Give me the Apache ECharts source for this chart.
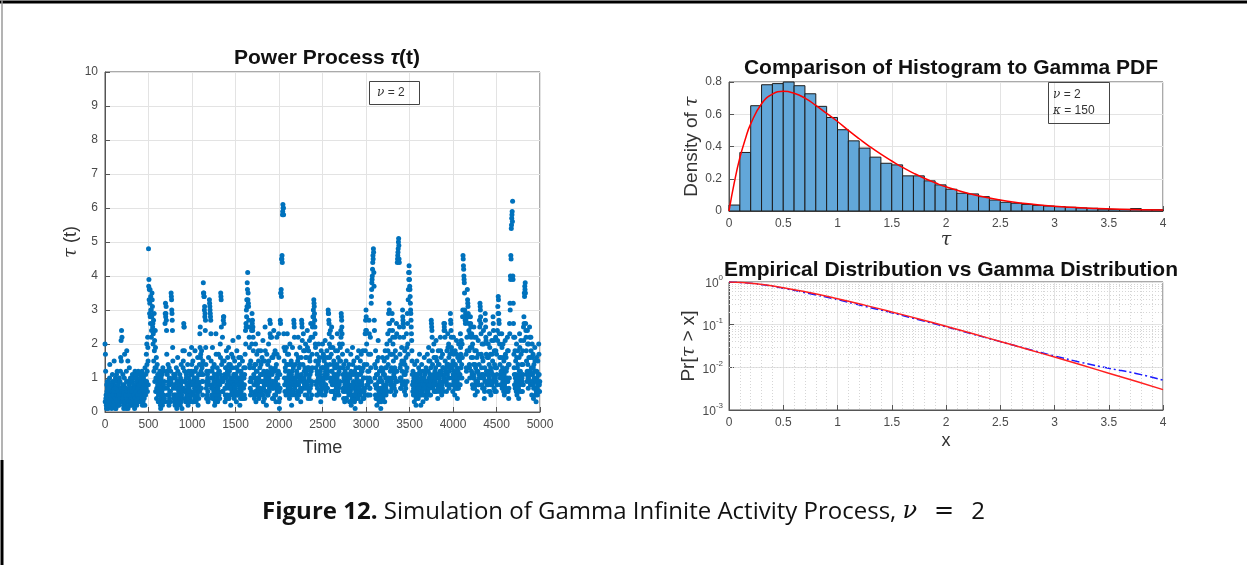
<!DOCTYPE html>
<html><head><meta charset="utf-8">
<script src="https://cdn.jsdelivr.net/npm/echarts@6/dist/echarts.min.js"></script>
<style>html,body{margin:0;padding:0;background:#fff}#c{width:1247px;height:565px}</style>
</head><body><div id="c"></div>
<script>
// ---------- DATA ----------
const timeStep = 5; // samples, one every 5 time units (two interleaved sets)
const tauValuesA = [ // t = 0, 5, 10, ...
2.0,1.7,0.4,0.2,0.8,0.3,0.7,0.1,0.9,0.5,0.6,1.4,0.3,0.6,0.2,0.8,0.4,1.1,0.3,0.7,
0.8,1.5,0.2,0.5,1.0,0.1,0.6,0.4,1.2,0.9,0.4,0.2,0.7,1.0,0.3,0.6,1.6,2.1,2.4,2.2,
0.5,1.1,0.3,0.1,0.8,1.7,0.4,0.2,0.7,1.2,1.8,0.3,0.6,0.1,0.9,0.5,1.3,0.2,0.7,0.5,
0.4,0.9,0.2,1.1,0.6,0.3,1.0,0.5,0.1,1.2,0.7,0.4,1.0,0.2,0.8,0.6,0.3,0.9,0.5,1.1,
0.7,1.0,0.3,0.8,0.5,1.2,0.2,0.9,0.6,1.1,0.4,0.8,1.3,0.5,0.9,1.7,2.0,1.2,2.2,1.5,
4.8,3.9,3.6,3.2,2.8,3.4,3.0,2.4,3.5,3.1,2.6,2.3,1.5,2.9,2.1,1.3,1.9,1.0,1.6,0.7,
1.4,0.8,1.1,0.5,0.9,0.3,1.2,0.6,0.1,1.0,0.4,0.8,0.2,1.3,0.7,0.5,0.9,0.3,2.6,3.2,
2.9,2.7,1.7,1.1,0.5,1.4,0.8,0.2,1.0,0.6,0.3,1.2,3.5,3.3,2.9,2.4,1.5,0.7,1.1,0.4,
0.8,0.2,1.0,0.5,1.3,0.1,0.7,1.6,0.4,0.9,0.3,0.6,1.1,0.2,0.8,1.4,0.5,0.1,0.9,1.8,
1.5,2.6,2.5,1.2,0.6,0.9,0.3,1.1,0.5,0.8,1.4,0.2,1.0,0.7,1.7,0.4,0.9,0.6,1.2,1.9,
1.1,0.5,1.5,0.8,0.3,1.2,0.7,1.8,1.0,0.4,1.3,0.6,0.9,1.6,0.2,1.1,0.8,1.4,2.3,2.5,
1.7,1.1,1.8,1.3,0.9,1.5,3.8,3.5,3.4,3.1,2.9,2.7,1.4,0.7,1.2,0.5,1.0,0.3,1.6,0.8,
3.3,3.1,2.9,2.7,1.5,0.7,1.2,1.9,0.4,1.0,0.6,1.4,0.2,0.9,0.5,2.3,1.1,0.7,1.3,0.3,
0.9,1.7,0.5,1.2,0.8,2.0,3.5,3.3,1.4,0.9,2.2,0.6,2.7,2.8,1.5,1.0,0.3,1.3,0.7,1.8,
1.1,0.5,1.6,0.9,1.9,0.4,1.2,0.8,1.4,0.2,1.0,1.7,0.6,1.3,2.1,0.8,1.1,0.4,1.5,0.9,
0.7,1.3,0.3,1.8,1.0,0.5,1.2,2.2,0.8,1.4,0.2,0.9,1.6,0.6,1.1,0.4,1.5,0.8,1.0,1.3,
0.5,1.1,1.7,2.4,2.6,3.0,3.3,3.8,4.1,3.5,3.1,2.5,1.9,1.3,0.7,1.5,0.9,2.4,2.9,2.7,
2.5,1.8,1.1,0.5,1.4,0.8,2.0,0.3,1.2,1.7,0.6,1.0,2.3,1.5,0.4,0.9,1.3,0.7,1.8,1.1,
0.5,1.6,0.9,2.1,0.3,1.2,0.8,1.5,2.5,0.6,1.1,0.2,1.7,0.9,1.4,0.5,2.0,1.0,0.7,2.7,
2.6,1.3,0.8,2.2,1.1,0.4,1.6,0.7,2.4,1.2,0.5,1.8,0.9,0.3,1.4,2.2,0.6,1.1,0.8,2.3,
0.3,0.1,1.1,2.7,3.5,3.6,4.5,4.6,5.8,6.1,6.0,2.3,1.5,0.8,1.8,1.2,0.5,1.9,1.0,2.3,
1.4,0.7,1.7,1.1,0.4,2.0,0.9,0.6,1.5,0.2,1.2,1.9,0.8,1.3,2.7,2.5,1.0,0.5,1.4,0.8,
1.7,1.1,0.4,1.5,2.2,0.8,1.3,0.6,1.9,1.0,0.3,1.6,2.7,2.5,0.9,1.4,2.3,0.7,1.2,1.8,
0.5,2.0,1.1,1.6,0.8,2.4,1.3,0.4,1.8,1.0,2.1,1.5,0.7,2.6,1.2,0.5,1.7,2.5,2.8,3.0,
3.3,3.1,2.7,2.3,1.9,1.3,0.8,1.7,1.1,0.5,1.4,2.0,0.9,1.6,0.6,1.2,0.3,1.8,1.0,0.7,
2.0,1.3,1.7,1.0,1.5,0.8,2.1,1.2,0.6,1.4,1.8,1.1,1.6,3.0,2.9,2.6,2.0,1.4,2.4,0.9,
1.7,2.5,1.2,0.6,1.9,1.0,1.5,0.4,1.3,0.8,1.8,1.1,0.5,1.4,2.3,0.9,1.6,0.7,1.2,2.0,
1.3,1.9,2.4,2.9,2.7,2.3,1.7,1.1,0.6,1.4,0.9,0.3,1.2,0.7,1.5,0.4,1.0,1.8,0.6,1.1,
0.8,1.4,0.3,1.0,0.6,1.7,0.2,1.1,0.7,1.9,0.4,0.9,1.5,0.5,1.2,0.1,0.8,1.3,0.4,1.0,
1.6,0.6,1.1,1.8,0.5,1.3,0.8,1.5,0.3,1.7,0.9,1.2,0.6,1.8,1.0,0.4,1.4,0.7,2.3,2.7,
3.0,2.4,1.4,0.8,1.2,0.5,1.7,2.7,1.0,0.7,2.2,1.3,3.2,3.6,3.9,4.2,4.6,4.8,4.1,2.7,
1.4,0.8,1.8,0.4,1.1,0.2,1.5,0.7,2.1,0.9,0.3,1.2,0.6,1.0,0.1,1.3,0.5,0.9,1.6,0.4,
1.1,0.7,1.5,0.3,1.8,1.0,0.5,1.3,2.0,0.9,2.3,1.4,2.9,3.2,2.6,2.1,1.2,0.6,1.7,1.0,
2.9,2.4,2.0,1.5,1.1,0.7,1.3,2.2,0.9,1.6,2.6,1.2,4.4,4.6,4.8,5.1,4.5,2.5,1.7,1.0,
1.4,0.7,1.9,1.2,3.0,2.7,2.5,1.5,0.9,1.8,1.1,0.5,1.6,2.3,1.3,2.9,2.0,3.3,4.1,4.3,
3.9,3.6,3.2,2.9,2.5,2.1,1.5,0.8,1.2,0.5,1.0,0.3,1.4,0.7,1.1,0.2,0.9,1.5,0.6,1.0,
0.4,1.3,0.8,1.7,0.5,1.1,0.2,0.9,1.4,0.6,1.2,0.3,1.0,0.7,1.6,0.5,1.1,0.8,1.3,0.4,
0.9,1.7,0.6,1.2,1.9,1.0,0.5,1.5,0.8,1.3,2.7,2.5,2.2,1.4,0.7,1.1,2.0,0.6,1.6,0.9,
1.3,2.1,0.8,1.5,1.1,0.4,1.8,1.0,1.4,0.6,1.2,2.2,0.8,1.6,0.5,1.1,1.7,0.9,1.3,2.6,
2.5,2.4,1.5,0.9,1.3,0.6,1.8,1.1,2.3,1.4,2.0,0.7,1.2,1.7,2.9,2.6,2.2,1.8,1.3,0.8,
1.5,2.2,0.9,1.4,0.5,1.8,1.1,0.7,2.1,1.3,0.4,1.6,1.0,2.0,0.8,1.5,1.1,2.3,1.7,2.1,
1.4,2.0,2.8,4.6,4.3,4.0,3.8,3.0,2.7,2.9,1.7,1.2,2.2,3.6,3.2,2.9,2.6,1.8,1.3,2.3,
2.8,2.5,1.6,2.3,1.1,2.0,0.7,1.4,2.5,1.0,1.8,0.5,1.3,2.2,0.9,1.6,0.6,1.2,2.1,0.8,
1.4,2.7,3.2,3.0,2.6,1.7,1.1,2.0,0.7,1.5,2.4,1.0,0.4,1.3,2.9,2.5,2.1,1.2,0.8,1.6,
1.1,2.0,0.6,1.4,2.3,0.9,1.7,0.5,1.2,2.1,0.8,1.5,2.8,2.4,1.0,1.8,0.6,1.3,2.2,0.9,
1.7,1.1,2.4,3.1,3.4,2.9,2.6,2.0,1.4,0.8,1.6,1.1,2.3,0.7,1.3,2.0,0.9,1.5,0.5,1.2,
2.1,1.0,1.6,0.6,1.3,2.2,0.9,1.8,0.4,1.4,2.6,3.2,4.0,4.6,5.4,5.7,5.9,6.2,3.9,2.6,
1.7,1.1,2.2,0.7,1.5,0.9,2.0,0.5,1.3,1.8,1.0,0.4,1.6,2.3,0.8,1.2,2.1,0.6,1.4,0.9,
1.8,1.1,2.5,2.8,3.5,3.7,3.8,2.6,2.2,1.5,0.9,2.4,1.4,0.7,2.0,1.2,2.5,1.6,0.8,2.2,
1.3,0.5,2.0,1.1,1.7,0.4,1.4,0.9,1.9,0.7,1.2,0.3,1.6,1.0,0.5,1.5,0.8,2.0,1.1,0.6
];
const tauValuesB = [ // t = 2.5, 7.5, 12.5, ...
0.3,1.2,0.5,0.1,0.6,0.9,0.2,0.4,0.7,0.3,1.0,0.5,0.2,0.8,0.4,0.1,0.6,0.9,0.5,0.2,
0.6,0.3,0.9,0.4,0.1,0.7,1.1,0.5,0.3,0.6,0.8,0.2,0.5,0.4,0.9,1.2,0.7,1.5,0.6,0.3,
0.8,0.4,0.2,0.6,1.0,0.3,0.7,0.5,0.1,0.9,0.4,0.6,1.5,0.3,0.5,0.8,0.2,0.6,1.0,0.4,
0.7,0.3,0.6,0.9,0.4,0.8,0.5,0.2,0.7,0.4,1.1,0.6,0.3,0.9,0.5,0.7,1.2,0.4,0.8,0.6,
0.3,0.6,0.9,0.5,1.1,0.4,0.7,0.3,1.0,0.6,0.8,0.2,0.5,1.1,0.7,0.9,1.4,0.6,1.9,0.8,
3.7,3.3,2.9,3.6,2.6,3.0,2.2,2.8,3.3,2.5,2.0,2.7,1.2,1.8,0.9,2.4,0.6,1.3,0.4,1.0,
0.6,1.1,0.3,0.8,0.5,1.0,0.7,0.2,0.9,0.4,0.6,1.1,0.5,0.3,0.8,1.2,0.4,0.7,2.9,2.8,
3.1,2.4,1.2,0.7,0.3,0.9,0.5,1.3,0.4,0.8,0.6,0.9,3.4,3.0,2.7,1.9,1.0,0.5,0.8,0.3,
0.5,1.1,0.4,0.7,0.2,0.9,0.5,1.2,0.3,0.6,0.8,0.4,0.7,1.0,0.5,0.3,0.9,0.6,0.4,1.3,
0.7,2.5,1.8,0.9,0.4,0.6,1.0,0.3,0.8,0.5,0.7,0.4,1.2,0.6,0.9,0.3,1.1,0.5,0.8,1.4,
0.8,0.3,0.9,0.5,1.0,0.6,0.4,1.2,0.7,0.3,0.8,1.0,0.5,0.9,0.7,0.4,1.1,0.6,1.9,1.6,
1.2,0.7,1.4,0.9,0.5,1.1,3.5,3.4,3.0,2.8,2.4,1.9,0.9,0.4,0.8,1.1,0.6,0.9,0.4,1.2,
3.2,3.0,2.8,2.3,1.0,0.5,0.8,1.3,0.7,0.4,0.9,1.1,0.6,0.3,0.8,1.7,0.6,0.4,1.0,0.7,
0.6,1.2,0.9,0.4,1.1,1.6,3.4,2.5,1.0,0.6,1.5,0.9,2.8,2.6,1.1,0.7,0.5,1.0,0.4,1.3,
0.8,1.2,0.4,1.1,1.4,0.7,0.9,0.5,1.0,0.7,1.3,0.9,0.5,1.0,1.6,0.6,0.8,1.1,0.7,0.5,
1.1,0.6,0.9,1.3,0.5,1.0,0.8,1.6,0.6,1.0,0.7,0.4,1.2,0.9,0.5,1.1,0.8,0.4,0.7,1.0,
0.8,0.4,1.3,2.0,2.5,2.8,3.1,3.6,3.3,3.2,2.7,2.2,1.4,0.9,0.5,1.0,0.6,2.0,2.6,2.4,
2.2,1.3,0.8,0.4,1.0,0.6,1.4,0.9,0.5,1.2,0.8,0.7,1.8,1.0,0.6,0.5,0.9,1.1,1.4,0.6,
0.9,1.1,0.5,1.5,0.7,0.9,0.4,1.1,1.8,1.0,0.6,0.8,1.2,0.5,1.0,0.8,1.5,0.6,1.1,2.3,
2.2,0.9,1.2,1.6,0.7,0.9,1.2,0.4,1.7,0.8,0.9,1.3,0.5,0.7,1.0,1.7,1.0,0.7,1.2,1.6,
0.6,0.4,0.7,2.6,3.5,3.4,4.5,4.4,5.9,6.0,5.8,1.9,1.0,0.6,1.3,0.8,0.9,1.4,0.6,1.7,
1.0,0.5,1.2,0.8,0.6,1.4,0.7,1.0,1.1,0.5,0.9,1.4,0.6,1.0,2.6,2.2,0.7,0.9,1.0,0.5,
1.2,0.8,0.6,1.1,1.6,0.5,0.9,1.0,1.4,0.7,0.6,1.1,2.6,2.1,0.7,1.0,1.8,1.0,0.8,1.3,
0.9,1.6,0.7,1.2,0.5,1.9,0.9,0.7,1.3,0.6,1.6,1.1,0.4,2.2,0.8,0.9,1.3,2.2,2.6,2.8,
3.2,2.9,2.5,2.0,1.5,0.9,0.5,1.2,0.7,0.9,1.0,1.5,0.6,1.1,0.9,0.8,0.6,1.3,0.7,0.5,
1.6,0.9,1.3,0.7,1.1,0.5,1.6,0.8,1.0,1.0,1.3,0.7,1.2,2.9,2.7,2.3,1.6,1.0,1.9,0.6,
1.2,2.2,0.8,1.0,1.4,0.6,1.1,0.8,0.9,0.5,1.3,0.7,0.9,1.0,1.8,0.6,1.1,0.5,0.8,1.5,
0.9,1.5,2.2,2.8,2.5,2.0,1.3,0.7,0.4,1.0,0.6,0.8,0.9,0.4,1.1,0.7,0.6,1.3,0.9,0.7,
0.5,1.0,0.6,0.7,0.3,1.2,0.5,0.8,0.4,1.4,0.7,0.5,1.1,0.3,0.8,0.5,0.6,0.9,0.7,0.6,
1.1,0.4,0.8,1.3,0.7,0.9,0.5,1.1,0.6,1.2,0.6,0.8,0.4,1.3,0.7,0.6,1.0,0.5,1.8,2.4,
2.8,2.0,1.0,0.5,0.8,0.9,1.2,2.3,0.7,0.5,1.7,0.9,3.4,3.8,4.0,4.4,4.5,4.7,3.7,2.4,
1.0,0.5,1.3,0.7,0.8,0.4,1.1,0.5,1.6,0.6,0.5,0.9,0.4,0.7,0.3,0.9,0.7,0.6,1.2,0.7,
0.8,0.5,1.1,0.6,1.3,0.7,0.8,1.0,1.6,0.6,1.8,1.0,2.6,3.0,2.4,1.7,0.8,0.9,1.3,0.7,
2.7,2.2,1.7,1.2,0.8,0.5,1.0,1.8,0.6,1.2,2.3,0.9,4.5,4.7,5.0,4.9,4.4,2.2,1.3,0.7,
1.0,0.9,1.5,0.8,2.8,2.6,2.2,1.1,0.6,1.4,0.8,0.7,1.2,1.9,0.9,2.6,1.7,3.6,3.9,4.1,
3.7,3.4,3.0,2.7,2.3,1.8,1.1,0.6,0.9,0.7,0.8,0.5,1.0,0.5,0.8,0.4,0.6,1.1,0.9,0.7,
0.7,0.9,0.5,1.2,0.8,0.7,0.5,0.6,1.0,0.9,0.8,0.5,0.7,1.0,1.2,0.8,0.7,0.5,0.9,0.6,
0.6,1.2,0.9,0.8,1.5,0.7,0.8,1.1,0.5,0.9,2.6,2.4,1.8,1.0,0.9,0.8,1.6,0.9,1.2,0.6,
1.0,1.6,0.6,1.1,0.8,0.7,1.4,0.7,1.0,0.9,0.8,1.8,1.1,1.2,0.8,0.7,1.3,0.6,1.0,2.4,
2.6,2.2,1.1,1.2,0.9,0.8,1.4,0.8,1.9,1.0,1.6,1.0,0.8,1.3,2.7,2.4,1.9,1.4,1.0,0.6,
1.1,1.7,1.2,1.0,0.7,1.4,0.8,1.0,1.7,0.9,0.7,1.2,0.7,1.6,1.1,1.0,0.8,1.9,1.3,1.6,
1.0,1.6,3.0,4.5,4.2,3.9,3.5,2.8,2.6,2.7,1.3,0.9,1.8,3.3,3.1,2.8,2.4,1.4,1.0,1.9,
2.6,2.2,1.2,1.9,0.8,1.6,1.0,1.1,2.2,0.7,1.4,0.8,0.9,1.8,1.2,1.2,0.9,0.8,1.7,1.1,
1.0,2.5,3.1,2.8,2.3,1.3,0.8,1.6,1.0,1.1,2.0,0.7,0.6,0.9,2.7,2.2,1.7,0.9,1.1,1.2,
0.8,1.6,0.9,1.0,1.9,0.6,1.3,0.8,0.9,1.7,1.1,1.1,2.6,2.1,0.7,1.4,0.9,1.0,1.8,0.6,
1.3,0.8,2.1,2.9,3.3,2.7,2.3,1.6,1.0,1.1,1.2,0.8,1.9,1.0,0.9,1.6,0.6,1.1,0.8,0.9,
1.7,0.7,1.2,0.9,1.0,1.8,0.6,1.4,0.7,1.0,2.3,3.0,3.9,4.5,5.5,5.8,5.6,4.0,3.2,2.2,
1.3,0.8,1.8,1.0,1.1,0.6,1.6,0.8,0.9,1.4,0.7,0.6,1.2,1.9,1.1,0.9,1.7,0.9,1.0,0.6,
1.4,0.8,2.1,2.6,3.4,3.6,3.5,2.4,1.8,1.1,1.2,2.0,1.0,1.0,1.6,0.9,2.2,1.2,1.1,1.8,
0.9,0.8,1.6,0.8,1.3,0.7,1.0,1.2,1.5,0.5,0.9,0.6,1.2,0.7,0.8,1.1,0.6,1.7,0.8,0.9
];
const histBinWidth = 0.1;
const histDensity = [0.037,0.363,0.653,0.783,0.790,0.800,0.777,0.727,0.649,0.580,
0.504,0.435,0.390,0.334,0.296,0.286,0.218,0.218,0.187,0.162,
0.135,0.110,0.106,0.089,0.068,0.054,0.048,0.041,0.035,0.031,
0.027,0.023,0.019,0.017,0.012,0.010,0.010,0.015,0.008,0.008];
const pdfX = [0,0.05,0.1,0.15,0.2,0.3,0.4,0.5,0.6,0.7,0.8,0.9,1.0,1.1,1.2,1.3,1.4,1.5,1.6,1.7,1.8,1.9,2.0,2.2,2.4,2.6,2.8,3.0,3.2,3.4,3.6,3.8,4.0];
const pdfY = [0,0.18,0.33,0.445,0.54,0.665,0.725,0.742,0.73,0.70,0.655,0.605,0.555,0.50,0.448,0.398,0.352,0.31,0.27,0.235,0.203,0.175,0.15,0.11,0.08,0.058,0.042,0.03,0.021,0.015,0.011,0.008,0.0055];
const survX = [0,0.25,0.5,0.75,1.0,1.25,1.5,1.75,2.0,2.25,2.5,2.75,3.0,3.25,3.5,3.75,4.0];
const gammaSurv = [1,0.91,0.736,0.558,0.406,0.287,0.199,0.136,0.0916,0.0611,0.0404,0.0266,0.0174,0.0113,0.0073,0.0047,0.0030];
const empSurv = [1,0.90,0.71,0.53,0.385,0.27,0.19,0.13,0.089,0.060,0.040,0.027,0.0185,0.013,0.0095,0.0072,0.0050];

// ---------- CHART ----------
const FONT = 'Liberation Sans, Arial, sans-serif';
const LBL = '#4a4a4a', AX = '#555', GRID = '#e3e3e3';
const scatterData = tauValuesA.map((v, i) => [i * timeStep, v])
  .concat(tauValuesB.map((v, i) => [i * timeStep + timeStep / 2, v]));
const histData = histDensity.map((d, i) => [i * histBinWidth, (i + 1) * histBinWidth, d]);
const minorLogVals = [];
[0.001, 0.01, 0.1].forEach(dec => { for (let k = 2; k <= 9; k++) minorLogVals.push(+(dec * k).toPrecision(3)); });

function baseAxis(extra) {
  return Object.assign({
    axisLine: { show: true, onZero: false, lineStyle: { color: AX, width: 1 } },
    axisTick: { show: true, inside: true, length: 5, lineStyle: { color: AX } },
    axisLabel: { color: LBL, fontSize: 12, fontFamily: FONT, margin: 7, formatter: v => String(v) },
    splitLine: { show: true, lineStyle: { color: GRID, width: 1 } },
    nameLocation: 'middle',
    nameTextStyle: { color: '#333', fontSize: 18, fontFamily: FONT }
  }, extra);
}
const itRich = { i: { fontStyle: 'italic', fontWeight: 'normal', fontFamily: 'DejaVu Serif, serif', fontSize: 12, color: '#333' },
                 n: { fontWeight: 'normal', fontFamily: FONT, fontSize: 12, color: '#333' } };
const capFont = 'Open Sans, Noto Sans, sans-serif';

const chart = echarts.init(document.getElementById('c'), null, { renderer: 'canvas' });
chart.setOption({
  backgroundColor: '#fff',
  animation: false,
  title: [
    { text: 'Power Process {t|τ}(t)', left: 322, top: 43, textAlign: 'center',
      textStyle: { fontSize: 21, fontWeight: 'bold', fontFamily: FONT, color: '#111',
        rich: { t: { fontSize: 21, fontStyle: 'italic', fontWeight: 'bold', fontFamily: FONT, color: '#111' } } } },
    { text: 'Comparison of Histogram to Gamma PDF', left: 946, top: 53, textAlign: 'center',
      textStyle: { fontSize: 21, fontWeight: 'bold', fontFamily: FONT, color: '#111' } },
    { text: 'Empirical Distribution vs Gamma Distribution', left: 946, top: 255, textAlign: 'center',
      textStyle: { fontSize: 21, fontWeight: 'bold', fontFamily: FONT, color: '#111' } },
    { text: '{i|ν}{n| = 2}', left: 369, top: 81, borderWidth: 1, borderColor: '#444',
      padding: [6, 15, 6, 8], textStyle: { fontWeight: 'normal', rich: itRich } },
    { text: '{i|ν}{n| = 2}\n{i|κ}{n| = 150}', left: 1048, top: 82, borderWidth: 1, borderColor: '#444',
      padding: [5, 15, 5, 5], textStyle: { fontWeight: 'normal', lineHeight: 16, rich: {
        i: Object.assign({ lineHeight: 16 }, itRich.i), n: Object.assign({ lineHeight: 16 }, itRich.n) } } },
    { text: '{b|Figure 12.}{n| Simulation of Gamma Infinite Activity Process, }{m|ν}{e|=}{n|2}',
      left: 'center', top: 495,
      textStyle: { fontWeight: 'normal', rich: {
        b: { fontFamily: capFont, fontWeight: 'bold', fontSize: 24, color: '#111' },
        n: { fontFamily: capFont, fontWeight: 'normal', fontSize: 24, color: '#111' },
        e: { fontFamily: 'DejaVu Serif, serif', fontWeight: 'normal', fontSize: 24, color: '#111', padding: [0, 17, 0, 17] },
        m: { fontFamily: 'DejaVu Serif, serif', fontStyle: 'italic', fontWeight: 'normal', fontSize: 24, color: '#111' } } } }
  ],
  grid: [
    { left: 105, top: 72, width: 435, height: 340, show: true, borderColor: AX, borderWidth: 1, backgroundColor: 'transparent' },
    { left: 729, top: 82, width: 434, height: 129, show: true, borderColor: AX, borderWidth: 1, backgroundColor: 'transparent' },
    { left: 729, top: 282, width: 434, height: 128, show: true, borderColor: AX, borderWidth: 1, backgroundColor: 'transparent' }
  ],
  xAxis: [
    baseAxis({ gridIndex: 0, type: 'value', min: 0, max: 5000, interval: 500, name: 'Time', nameGap: 27 }),
    baseAxis({ gridIndex: 1, type: 'value', min: 0, max: 4, interval: 0.5, name: 'τ', nameGap: 18,
      nameTextStyle: { color: '#333', fontSize: 19, fontStyle: 'italic', fontFamily: 'DejaVu Serif, serif' } }),
    baseAxis({ gridIndex: 2, type: 'value', min: 0, max: 4, interval: 0.5, name: 'x', nameGap: 22,
      minorTick: { show: false, splitNumber: 5 },
      minorSplitLine: { show: true, lineStyle: { color: '#d6d6d6', type: [1, 2], width: 1 } } })
  ],
  yAxis: [
    baseAxis({ gridIndex: 0, type: 'value', min: 0, max: 10, interval: 1, name: '{i|τ} (t)', nameGap: 25,
      nameTextStyle: { color: '#333', fontSize: 18, fontFamily: FONT,
        rich: { i: { fontStyle: 'italic', fontSize: 18, fontFamily: 'DejaVu Serif, serif', color: '#333' } } } }),
    baseAxis({ gridIndex: 1, type: 'value', min: 0, max: 0.8, interval: 0.2, name: 'Density of {i|τ}', nameGap: 25,
      nameTextStyle: { color: '#333', fontSize: 19, fontFamily: FONT,
        rich: { i: { fontStyle: 'italic', fontSize: 19, fontFamily: 'DejaVu Serif, serif', color: '#333' } } } }),
    baseAxis({ gridIndex: 2, type: 'log', logBase: 10, min: 0.001, max: 1, name: 'Pr[{i|τ} > x]', nameGap: 26,
      nameTextStyle: { color: '#333', fontSize: 19, fontFamily: FONT,
        rich: { i: { fontStyle: 'italic', fontSize: 19, fontFamily: 'DejaVu Serif, serif', color: '#333' } } },
      axisLabel: { color: LBL, fontFamily: FONT, margin: 6,
        formatter: v => '{b|10}{s|' + Math.round(Math.log10(v)) + '}',
        rich: { b: { fontSize: 12, fontFamily: FONT, color: LBL, lineHeight: 16, verticalAlign: 'bottom' },
                s: { fontSize: 8, fontFamily: FONT, color: LBL, lineHeight: 16, verticalAlign: 'top' } } } })
  ],
  series: [
    { type: 'scatter', xAxisIndex: 0, yAxisIndex: 0, data: scatterData, symbolSize: 5,
      itemStyle: { color: '#0072BD', opacity: 1 }, silent: true, large: false },
    { type: 'custom', xAxisIndex: 1, yAxisIndex: 1, data: histData, encode: { x: [0, 1], y: 2 },
      renderItem: (params, api) => {
        const p0 = api.coord([api.value(0), api.value(2)]);
        const p1 = api.coord([api.value(1), 0]);
        return { type: 'rect', shape: { x: p0[0], y: p0[1], width: p1[0] - p0[0], height: p1[1] - p0[1] },
          style: { fill: '#62a7d9', stroke: '#1d1d1d', lineWidth: 1 } };
      } },
    { type: 'line', xAxisIndex: 1, yAxisIndex: 1, data: pdfX.map((x, i) => [x, pdfY[i]]), smooth: true,
      showSymbol: false, lineStyle: { color: '#ff0000', width: 1.5 }, z: 5 },
    { type: 'line', xAxisIndex: 2, yAxisIndex: 2, data: survX.map((x, i) => [x, gammaSurv[i]]), smooth: true,
      showSymbol: false, lineStyle: { color: '#ff2020', width: 1.5 }, z: 5,
      markLine: { silent: true, symbol: 'none', label: { show: false }, animation: false,
        lineStyle: { color: '#d6d6d6', type: [1, 2], width: 1 },
        data: minorLogVals.map(v => ({ yAxis: v })) } },
    { type: 'line', xAxisIndex: 2, yAxisIndex: 2, data: survX.map((x, i) => [x, empSurv[i]]), smooth: true,
      showSymbol: false, lineStyle: { color: '#1a1aff', width: 1.5, type: [8, 3, 2, 3] }, z: 4 }
  ],
  graphic: [
    { type: 'line', shape: { x1: 0, y1: 2, x2: 1247, y2: 2 }, style: { stroke: '#000', lineWidth: 3 } },
    { type: 'line', shape: { x1: 2, y1: 0, x2: 2, y2: 460 }, style: { stroke: '#9a9a9a', lineWidth: 1.5 } },
    { type: 'line', shape: { x1: 2, y1: 460, x2: 2, y2: 565 }, style: { stroke: '#000', lineWidth: 3 } }
  ]
});
</script></body></html>
